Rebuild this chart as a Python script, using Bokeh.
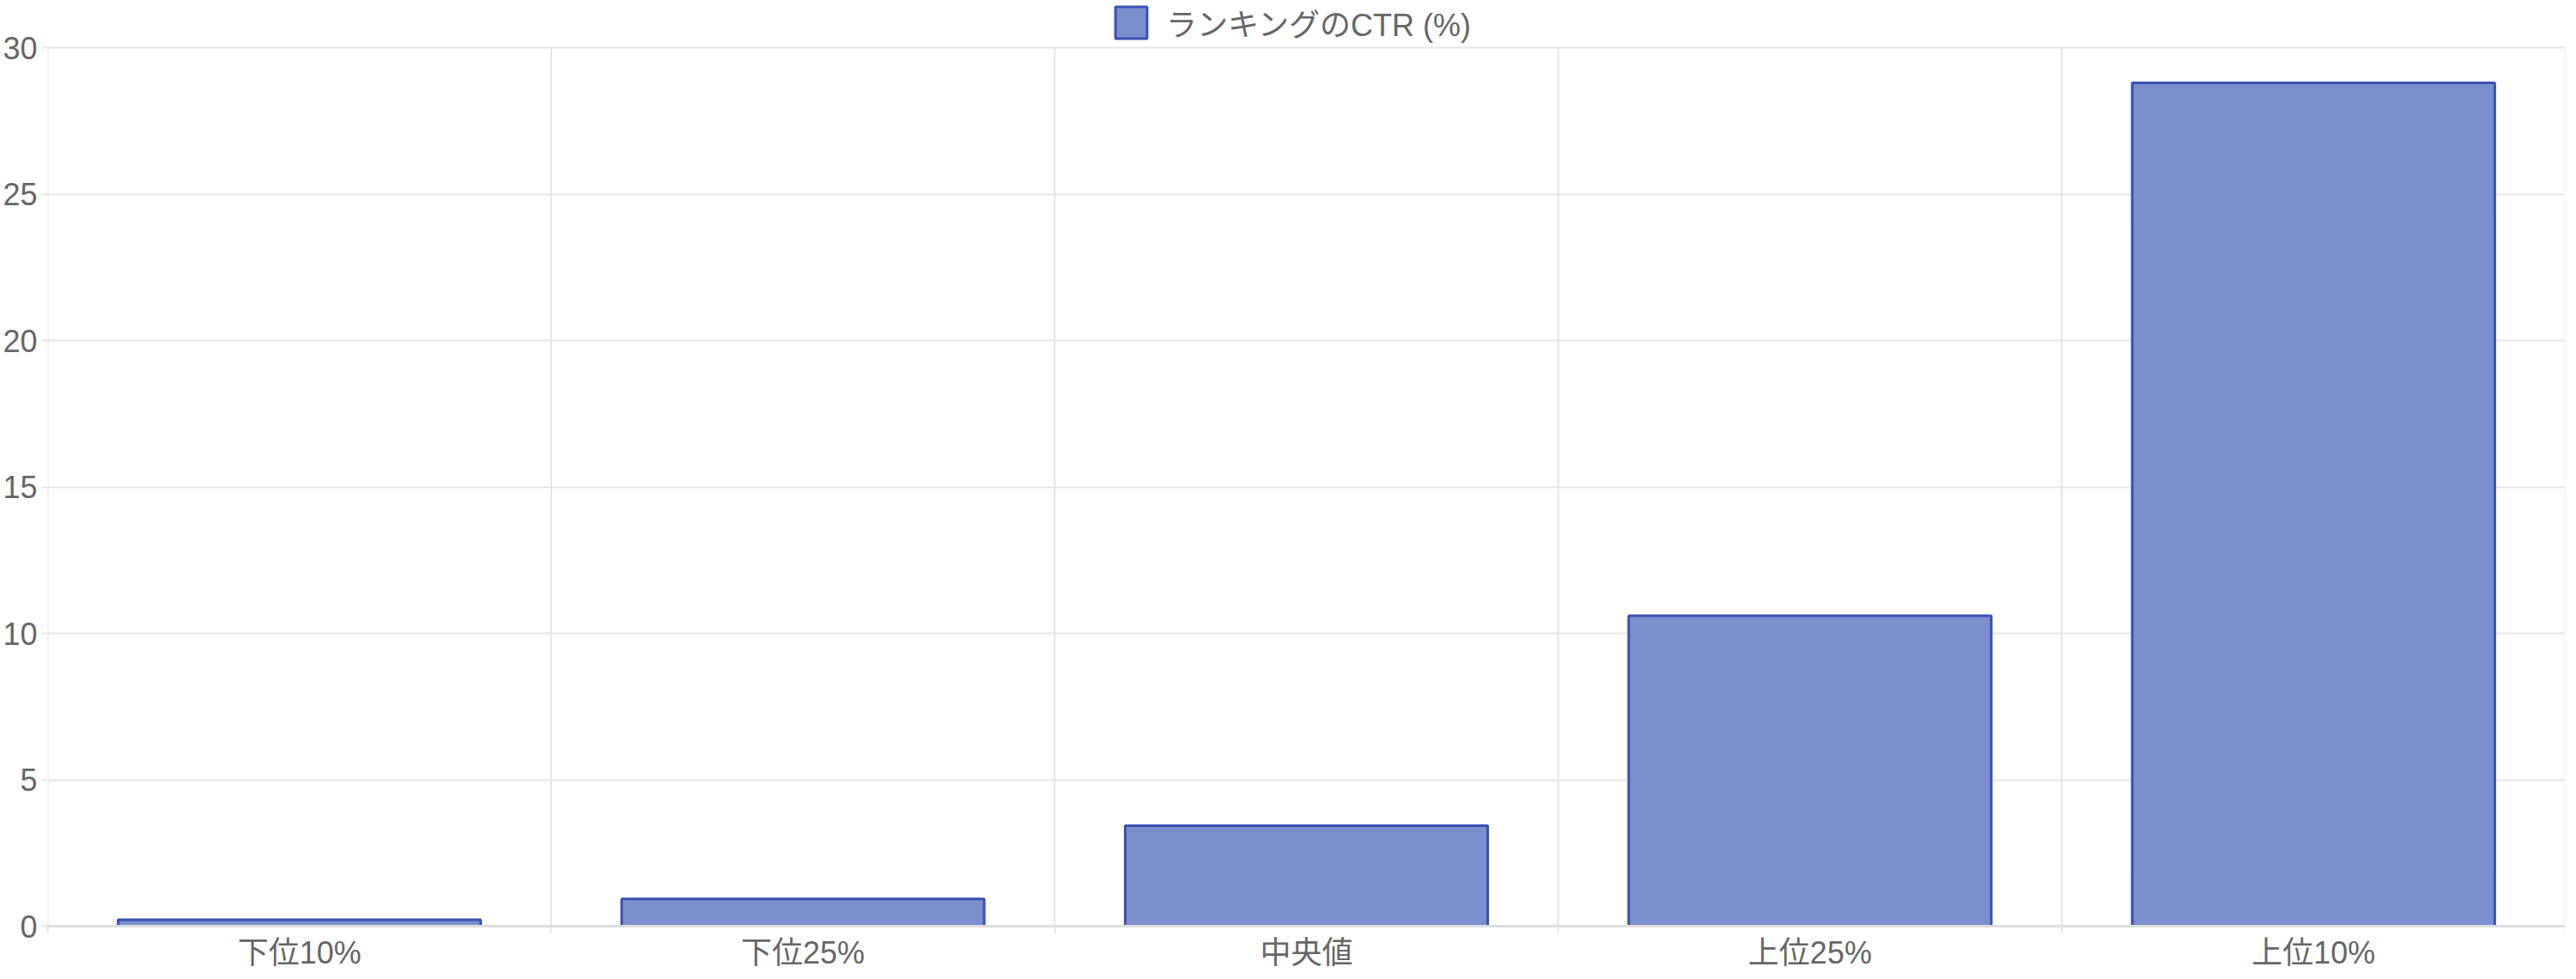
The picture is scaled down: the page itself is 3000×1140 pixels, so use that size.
from bokeh.plotting import figure
from bokeh.models import (ColumnDataSource, Range1d, FixedTicker, Legend, LegendItem)
from bokeh.embed import file_html
from bokeh.resources import INLINE

# ---- data ----
categories = ["下位10%", "下位25%", "中央値", "上位25%", "上位10%"]
ctr_values = [0.22, 0.93, 3.43, 10.6, 28.8]
series_name = "ランキングのCTR (%)"
y_ticks = [0, 5, 10, 15, 20, 25, 30]

# ---- style / layout ----
FONT = "'Liberation Sans', 'Noto Sans CJK JP', sans-serif"
TEXT_COLOR = "#666666"
GRID_COLOR = "#e6e6e6"
FILL = "#7b8fcd"
EDGE = "#3a50b4"
BAR_WIDTH = 0.72
FRAME_W = 2932
FRAME_H = 1078          # whole drawing area incl. legend strip on top
PLOT_H = 1023           # height used by the 0..30 value area
LEGEND_H = 48
LEGEND_TOP = 4
LEGEND_X = 1239

n = len(categories)
centers = [i + 0.5 for i in range(n)]
bounds = [float(i) for i in range(n + 1)]
y_max = max(y_ticks)
y_end = y_max * FRAME_H / PLOT_H

src = ColumnDataSource(dict(x=centers, top=ctr_values, cat=categories))
grid_src = ColumnDataSource(dict(x=bounds, y0=[0] * len(bounds), y1=[y_max] * len(bounds)))

p = figure(frame_width=FRAME_W, frame_height=FRAME_H, output_backend="svg", toolbar_location=None,
           x_range=Range1d(0, n), y_range=Range1d(0, y_end),
           min_border_left=0, min_border_right=0, min_border_top=0, min_border_bottom=0)
p.outline_line_color = None
p.background_fill_color = "white"
p.border_fill_color = "white"

# vertical category grid lines (stop at the top value line)
p.segment(x0="x", y0="y0", x1="x", y1="y1", source=grid_src,
          line_color=GRID_COLOR, line_width=2)

r = p.vbar(x="x", top="top", width=BAR_WIDTH, bottom=0, source=src,
           fill_color=FILL, fill_alpha=1.0, line_color=EDGE, line_width=3)

# x axis: labels at category centers, tick marks at boundaries (minor)
p.xaxis.ticker = FixedTicker(ticks=centers, minor_ticks=bounds)
p.xaxis.major_label_overrides = {c: lab for c, lab in zip(centers, categories)}
p.xaxis.major_tick_out = 0
p.xaxis.major_tick_in = 0
p.xaxis.minor_tick_out = 8
p.xaxis.minor_tick_in = 0
p.xaxis.minor_tick_line_color = GRID_COLOR
p.xaxis.minor_tick_line_width = 2
p.xaxis.axis_line_color = "#dedede"
p.xaxis.axis_line_width = 3
p.xaxis.major_label_standoff = 2
p.xaxis.major_label_text_font = FONT
p.xaxis.major_label_text_font_size = "36px"
p.xaxis.major_label_text_color = TEXT_COLOR

# y axis
p.yaxis.ticker = FixedTicker(ticks=y_ticks)
p.yaxis.major_tick_out = 7
p.yaxis.major_tick_in = 0
p.yaxis.major_tick_line_color = GRID_COLOR
p.yaxis.major_tick_line_width = 2
p.yaxis.minor_tick_line_color = None
p.yaxis.axis_line_color = None
p.yaxis.major_label_standoff = 5
p.yaxis.major_label_text_font = FONT
p.yaxis.major_label_text_font_size = "36px"
p.yaxis.major_label_text_color = TEXT_COLOR

# grids
p.ygrid.grid_line_color = GRID_COLOR
p.ygrid.grid_line_width = 2
p.xgrid.grid_line_color = None

# legend at the top of the drawing area
legend = Legend(items=[LegendItem(label=series_name, renderers=[r])],
                orientation="horizontal",
                location=(LEGEND_X, FRAME_H - LEGEND_TOP - LEGEND_H),
                glyph_width=46, glyph_height=46, label_standoff=18,
                label_text_font=FONT, label_text_font_size="36px",
                label_text_color=TEXT_COLOR, padding=0, margin=0,
                border_line_color=None, background_fill_alpha=0,
                label_height=38)
p.add_layout(legend, "center")

open("out.html", "w").write(file_html(p, INLINE))
